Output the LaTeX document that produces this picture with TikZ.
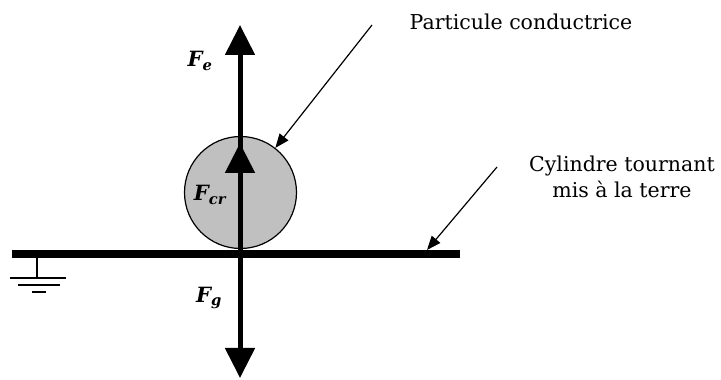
\documentclass[tikz,border=0pt]{standalone}
\usepackage{fontspec}
\setmainfont{DejaVu Serif}
\usetikzlibrary{arrows.meta}
\definecolor{pgrey}{RGB}{192,192,192}
\newcommand{\frc}[1]{F\textsubscript{#1}}
\tikzset{
  force/.style={line width=5pt, -{Triangle[length=30pt,width=29pt]}},
  ptr/.style={line width=1.2pt, -{Triangle[length=14pt,width=11pt]}},
  flab/.style={font=\fontsize{21}{21}\selectfont\bfseries\itshape},
  txt/.style={font=\fontsize{20.5}{26}\selectfont, align=center},
  gnd/.style={line width=1.6pt}
}
\begin{document}
\begin{tikzpicture}[x=1pt,y=1pt]
  \useasboundingbox (0,0) rectangle (721,380);
  % particle and grounded cylinder
  \node[circle, draw, line width=1.2pt, fill=pgrey, minimum size=112pt, inner sep=0pt] (p) at (240.5,187.5) {};
  \coordinate (bl) at (12,126);
  \coordinate (br) at (460,126);
  \coordinate (o) at (240,126);
  \draw[line width=8pt] (bl) -- (br);
  % earth symbol
  \coordinate (g0) at (37,126);
  \coordinate (g1) at (37,102);
  \draw[gnd] (g0) -- (g1);
  \draw[gnd] (10,102) -- (66,102);
  \draw[gnd] (18,95) -- (60,95);
  \draw[gnd] (32,88) -- (46,88);
  % forces
  \coordinate (te) at (240,355);
  \coordinate (tg) at (240,2);
  \coordinate (tc) at (240,237);
  \draw[force] (o) -- (te);
  \draw[force] (o) -- (tg);
  \draw[force] (o) -- (tc);
  \node[flab] (fe) at (200,319) {\frc{e}};
  \node[flab] (fc) at (210,185) {\frc{cr}};
  \node[flab] (fg) at (209,82) {\frc{g}};
  % labels with pointers
  \node[txt] (lp) at (521,358) {Particule conductrice};
  \node[txt] (lc) at (622,203) {Cylindre tournant\\mis à la terre};
  \coordinate (s1) at (372,355);
  \coordinate (s2) at (497,213);
  \coordinate (e2) at (427,130);
  \draw[ptr] (s1) -- (p.52);
  \draw[ptr] (s2) -- (e2);
\end{tikzpicture}
\end{document}
